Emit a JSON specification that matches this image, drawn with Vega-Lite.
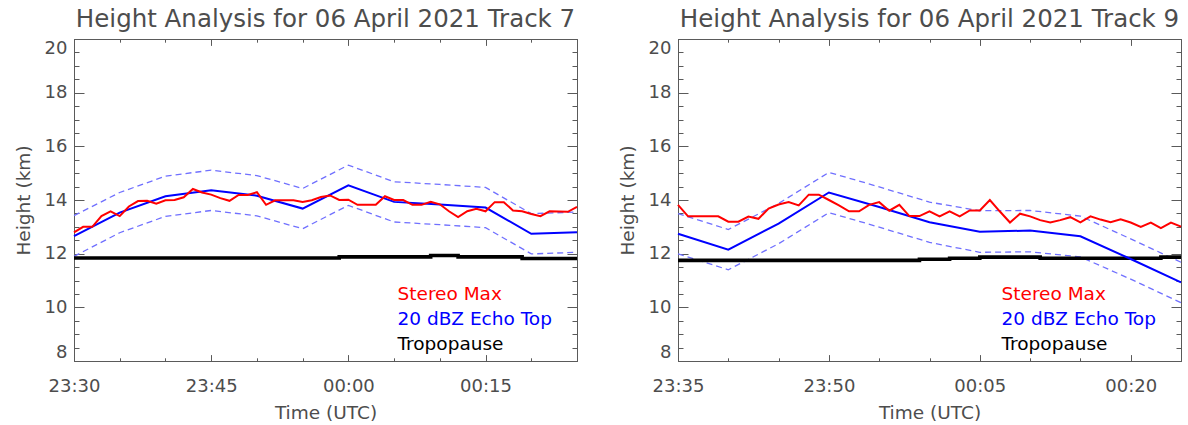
{
  "$schema": "https://vega.github.io/schema/vega-lite/v6.json",
  "padding": {"left": 13, "top": 6, "right": 0, "bottom": 0},
  "spacing": 32,
  "datasets": {
    "t7_stereo": [
      {"time": "2021-04-06T23:30:00Z", "height": 12.79},
      {"time": "2021-04-06T23:31:00Z", "height": 13.0},
      {"time": "2021-04-06T23:32:00Z", "height": 13.0},
      {"time": "2021-04-06T23:33:00Z", "height": 13.4},
      {"time": "2021-04-06T23:34:00Z", "height": 13.58},
      {"time": "2021-04-06T23:35:00Z", "height": 13.4},
      {"time": "2021-04-06T23:36:00Z", "height": 13.76},
      {"time": "2021-04-06T23:37:00Z", "height": 13.96},
      {"time": "2021-04-06T23:38:00Z", "height": 13.97},
      {"time": "2021-04-06T23:39:00Z", "height": 13.86},
      {"time": "2021-04-06T23:40:00Z", "height": 13.99},
      {"time": "2021-04-06T23:41:00Z", "height": 14.0},
      {"time": "2021-04-06T23:42:00Z", "height": 14.1},
      {"time": "2021-04-06T23:43:00Z", "height": 14.41},
      {"time": "2021-04-06T23:44:00Z", "height": 14.28},
      {"time": "2021-04-06T23:45:00Z", "height": 14.2},
      {"time": "2021-04-06T23:46:00Z", "height": 14.07},
      {"time": "2021-04-06T23:47:00Z", "height": 13.97},
      {"time": "2021-04-06T23:48:00Z", "height": 14.19},
      {"time": "2021-04-06T23:49:00Z", "height": 14.19},
      {"time": "2021-04-06T23:50:00Z", "height": 14.29},
      {"time": "2021-04-06T23:51:00Z", "height": 13.82},
      {"time": "2021-04-06T23:52:00Z", "height": 13.99},
      {"time": "2021-04-06T23:53:00Z", "height": 13.99},
      {"time": "2021-04-06T23:54:00Z", "height": 13.99},
      {"time": "2021-04-06T23:55:00Z", "height": 13.93},
      {"time": "2021-04-06T23:56:00Z", "height": 13.99},
      {"time": "2021-04-06T23:57:00Z", "height": 14.11},
      {"time": "2021-04-06T23:58:00Z", "height": 14.17},
      {"time": "2021-04-06T23:59:00Z", "height": 14.0},
      {"time": "2021-04-07T00:00:00Z", "height": 14.01},
      {"time": "2021-04-07T00:01:00Z", "height": 13.82},
      {"time": "2021-04-07T00:02:00Z", "height": 13.82},
      {"time": "2021-04-07T00:03:00Z", "height": 13.82},
      {"time": "2021-04-07T00:04:00Z", "height": 14.14},
      {"time": "2021-04-07T00:05:00Z", "height": 14.0},
      {"time": "2021-04-07T00:06:00Z", "height": 14.0},
      {"time": "2021-04-07T00:07:00Z", "height": 13.82},
      {"time": "2021-04-07T00:08:00Z", "height": 13.82},
      {"time": "2021-04-07T00:09:00Z", "height": 13.93},
      {"time": "2021-04-07T00:10:00Z", "height": 13.84},
      {"time": "2021-04-07T00:11:00Z", "height": 13.58},
      {"time": "2021-04-07T00:12:00Z", "height": 13.36},
      {"time": "2021-04-07T00:13:00Z", "height": 13.58},
      {"time": "2021-04-07T00:14:00Z", "height": 13.67},
      {"time": "2021-04-07T00:15:00Z", "height": 13.58},
      {"time": "2021-04-07T00:16:00Z", "height": 13.92},
      {"time": "2021-04-07T00:17:00Z", "height": 13.92},
      {"time": "2021-04-07T00:18:00Z", "height": 13.61},
      {"time": "2021-04-07T00:19:00Z", "height": 13.58},
      {"time": "2021-04-07T00:20:00Z", "height": 13.48},
      {"time": "2021-04-07T00:21:00Z", "height": 13.4},
      {"time": "2021-04-07T00:22:00Z", "height": 13.58},
      {"time": "2021-04-07T00:23:00Z", "height": 13.57},
      {"time": "2021-04-07T00:24:00Z", "height": 13.56},
      {"time": "2021-04-07T00:25:00Z", "height": 13.74}
    ],
    "t7_echo": [
      {"time": "2021-04-06T23:30:00Z", "height": 12.65, "hi": 13.42, "lo": 11.9},
      {"time": "2021-04-06T23:35:00Z", "height": 13.53, "hi": 14.28, "lo": 12.78},
      {"time": "2021-04-06T23:40:00Z", "height": 14.14, "hi": 14.89, "lo": 13.39},
      {"time": "2021-04-06T23:45:00Z", "height": 14.36, "hi": 15.11, "lo": 13.61},
      {"time": "2021-04-06T23:50:00Z", "height": 14.16, "hi": 14.91, "lo": 13.41},
      {"time": "2021-04-06T23:55:00Z", "height": 13.68, "hi": 14.43, "lo": 12.93},
      {"time": "2021-04-07T00:00:00Z", "height": 14.55, "hi": 15.3, "lo": 13.8},
      {"time": "2021-04-07T00:05:00Z", "height": 13.93, "hi": 14.68, "lo": 13.18},
      {"time": "2021-04-07T00:10:00Z", "height": 13.83, "hi": 14.58, "lo": 13.08},
      {"time": "2021-04-07T00:15:00Z", "height": 13.72, "hi": 14.47, "lo": 12.97},
      {"time": "2021-04-07T00:20:00Z", "height": 12.74, "hi": 13.49, "lo": 11.99},
      {"time": "2021-04-07T00:25:00Z", "height": 12.8, "hi": 13.55, "lo": 12.05}
    ],
    "t7_tropo": [
      {"time": "2021-04-06T23:30:00Z", "height": 11.84},
      {"time": "2021-04-06T23:59:00Z", "height": 11.88},
      {"time": "2021-04-07T00:09:00Z", "height": 11.93},
      {"time": "2021-04-07T00:12:00Z", "height": 11.88},
      {"time": "2021-04-07T00:19:00Z", "height": 11.82},
      {"time": "2021-04-07T00:25:00Z", "height": 11.82}
    ],
    "t9_stereo": [
      {"time": "2021-04-06T23:35:00Z", "height": 13.82},
      {"time": "2021-04-06T23:36:00Z", "height": 13.39},
      {"time": "2021-04-06T23:37:00Z", "height": 13.39},
      {"time": "2021-04-06T23:38:00Z", "height": 13.39},
      {"time": "2021-04-06T23:39:00Z", "height": 13.39},
      {"time": "2021-04-06T23:40:00Z", "height": 13.19},
      {"time": "2021-04-06T23:41:00Z", "height": 13.19},
      {"time": "2021-04-06T23:42:00Z", "height": 13.38},
      {"time": "2021-04-06T23:43:00Z", "height": 13.3},
      {"time": "2021-04-06T23:44:00Z", "height": 13.68},
      {"time": "2021-04-06T23:45:00Z", "height": 13.83},
      {"time": "2021-04-06T23:46:00Z", "height": 13.92},
      {"time": "2021-04-06T23:47:00Z", "height": 13.8},
      {"time": "2021-04-06T23:48:00Z", "height": 14.2},
      {"time": "2021-04-06T23:49:00Z", "height": 14.2},
      {"time": "2021-04-06T23:50:00Z", "height": 14.0},
      {"time": "2021-04-06T23:51:00Z", "height": 13.8},
      {"time": "2021-04-06T23:52:00Z", "height": 13.58},
      {"time": "2021-04-06T23:53:00Z", "height": 13.58},
      {"time": "2021-04-06T23:54:00Z", "height": 13.82},
      {"time": "2021-04-06T23:55:00Z", "height": 13.92},
      {"time": "2021-04-06T23:56:00Z", "height": 13.6},
      {"time": "2021-04-06T23:57:00Z", "height": 13.82},
      {"time": "2021-04-06T23:58:00Z", "height": 13.4},
      {"time": "2021-04-06T23:59:00Z", "height": 13.4},
      {"time": "2021-04-07T00:00:00Z", "height": 13.58},
      {"time": "2021-04-07T00:01:00Z", "height": 13.39},
      {"time": "2021-04-07T00:02:00Z", "height": 13.58},
      {"time": "2021-04-07T00:03:00Z", "height": 13.39},
      {"time": "2021-04-07T00:04:00Z", "height": 13.61},
      {"time": "2021-04-07T00:05:00Z", "height": 13.61},
      {"time": "2021-04-07T00:06:00Z", "height": 14.0},
      {"time": "2021-04-07T00:07:00Z", "height": 13.57},
      {"time": "2021-04-07T00:08:00Z", "height": 13.16},
      {"time": "2021-04-07T00:09:00Z", "height": 13.49},
      {"time": "2021-04-07T00:10:00Z", "height": 13.39},
      {"time": "2021-04-07T00:11:00Z", "height": 13.25},
      {"time": "2021-04-07T00:12:00Z", "height": 13.16},
      {"time": "2021-04-07T00:13:00Z", "height": 13.25},
      {"time": "2021-04-07T00:14:00Z", "height": 13.36},
      {"time": "2021-04-07T00:15:00Z", "height": 13.17},
      {"time": "2021-04-07T00:16:00Z", "height": 13.39},
      {"time": "2021-04-07T00:17:00Z", "height": 13.27},
      {"time": "2021-04-07T00:18:00Z", "height": 13.17},
      {"time": "2021-04-07T00:19:00Z", "height": 13.28},
      {"time": "2021-04-07T00:20:00Z", "height": 13.16},
      {"time": "2021-04-07T00:21:00Z", "height": 13.0},
      {"time": "2021-04-07T00:22:00Z", "height": 13.16},
      {"time": "2021-04-07T00:23:00Z", "height": 12.95},
      {"time": "2021-04-07T00:24:00Z", "height": 13.16},
      {"time": "2021-04-07T00:25:00Z", "height": 13.01}
    ],
    "t9_echo": [
      {"time": "2021-04-06T23:35:00Z", "height": 12.74, "hi": 13.49, "lo": 11.99},
      {"time": "2021-04-06T23:40:00Z", "height": 12.15, "hi": 12.9, "lo": 11.4},
      {"time": "2021-04-06T23:45:00Z", "height": 13.12, "hi": 13.87, "lo": 12.37},
      {"time": "2021-04-06T23:50:00Z", "height": 14.28, "hi": 15.03, "lo": 13.53},
      {"time": "2021-04-06T23:55:00Z", "height": 13.74, "hi": 14.49, "lo": 12.99},
      {"time": "2021-04-07T00:00:00Z", "height": 13.17, "hi": 13.92, "lo": 12.42},
      {"time": "2021-04-07T00:05:00Z", "height": 12.82, "hi": 13.6, "lo": 12.05},
      {"time": "2021-04-07T00:10:00Z", "height": 12.86, "hi": 13.61, "lo": 12.07},
      {"time": "2021-04-07T00:15:00Z", "height": 12.65, "hi": 13.4, "lo": 11.88},
      {"time": "2021-04-07T00:20:00Z", "height": 11.8, "hi": 12.55, "lo": 11.05},
      {"time": "2021-04-07T00:25:00Z", "height": 10.93, "hi": 11.68, "lo": 10.17}
    ],
    "t9_tropo": [
      {"time": "2021-04-06T23:35:00Z", "height": 11.75},
      {"time": "2021-04-06T23:59:00Z", "height": 11.79},
      {"time": "2021-04-07T00:02:00Z", "height": 11.83},
      {"time": "2021-04-07T00:05:00Z", "height": 11.87},
      {"time": "2021-04-07T00:11:00Z", "height": 11.83},
      {"time": "2021-04-07T00:23:00Z", "height": 11.87},
      {"time": "2021-04-07T00:25:00Z", "height": 11.87}
    ]
  },
  "resolve": {"scale": {"color": "independent"}, "legend": {"color": "independent"}},
  "hconcat": [
    {
      "title": "Height Analysis for 06 April 2021 Track 7",
      "width": 503,
      "height": 322,
      "resolve": {"axis": {"x": "independent", "y": "independent"}},
      "layer": [
        {
          "data": {"name": "t7_echo"},
          "mark": {"type": "line", "color": "#7070ff", "strokeWidth": 1.3, "strokeDash": [6, 4]},
          "encoding": {
            "x": {"field": "time", "type": "temporal",
              "scale": {"type": "utc", "nice": false, "domain": [1617751800000, 1617755100000]},
              "axis": {"orient": "bottom", "title": "Time (UTC)", "ticks": false, "labelExpr": "utcFormat(datum.value, '%H:%M')", "labelFlush": false, "labelOverlap": false, "labelPadding": 16.7, "titlePadding": 8,
                "values": [1617751800000, 1617752700000, 1617753600000, 1617754500000]}},
            "y": {"field": "hi", "type": "quantitative", "scale": {"domain": [8, 20], "nice": false, "zero": false},
              "axis": {"orient": "left", "title": "Height (km)", "ticks": false, "values": [8, 10, 12, 14, 16, 18, 20], "labelFlush": true, "labelOverlap": false, "labelPadding": 7, "titlePadding": 11}}
          }
        },
        {
          "data": {"name": "t7_echo"},
          "mark": {"type": "line", "color": "#7070ff", "strokeWidth": 1.3, "strokeDash": [6, 4]},
          "encoding": {
            "x": {"field": "time", "type": "temporal",
              "scale": {"type": "utc", "nice": false, "domain": [1617751800000, 1617755100000]},
              "axis": {"orient": "bottom", "title": null, "labels": false, "offset": -6.4, "tickSize": 6.4,
                "values": [1617751800000, 1617752700000, 1617753600000, 1617754500000]}},
            "y": {"field": "lo", "type": "quantitative", "scale": {"domain": [8, 20], "nice": false, "zero": false},
              "axis": {"orient": "left", "title": null, "labels": false, "offset": -10, "tickSize": 10, "values": [8, 10, 12, 14, 16, 18, 20]}}
          }
        },
        {
          "data": {"name": "t7_tropo"},
          "mark": {"type": "line", "strokeWidth": 3.6, "interpolate": "step-after"},
          "encoding": {
            "x": {"field": "time", "type": "temporal",
              "scale": {"type": "utc", "nice": false, "domain": [1617751800000, 1617755100000]},
              "axis": {"orient": "bottom", "title": null, "labels": false, "offset": -3.2, "tickSize": 3.2,
                "values": [1617751800000, 1617752100000, 1617752400000, 1617752700000, 1617753000000, 1617753300000, 1617753600000, 1617753900000, 1617754200000, 1617754500000, 1617754800000, 1617755100000]}},
            "y": {"field": "height", "type": "quantitative", "scale": {"domain": [8, 20], "nice": false, "zero": false},
              "axis": {"orient": "left", "title": null, "labels": false, "offset": -5, "tickSize": 5, "values": [8, 8.5, 9, 9.5, 10, 10.5, 11, 11.5, 12, 12.5, 13, 13.5, 14, 14.5, 15, 15.5, 16, 16.5, 17, 17.5, 18, 18.5, 19, 19.5, 20]}},
            "color": {"datum": "Tropopause", "type": "nominal",
              "scale": {"domain": ["Stereo Max", "20 dBZ Echo Top", "Tropopause"], "range": ["#ff0000", "#0000ff", "#000000"]},
              "legend": {"orient": "none", "legendX": 305, "legendY": 246, "title": null, "symbolSize": 0, "symbolOpacity": 0, "labelOffset": 0, "labelFontSize": 18.5, "rowPadding": 6, "labelColor": {"expr": "datum.label == 'Stereo Max' ? '#ff0000' : datum.label == 'Tropopause' ? '#000000' : '#0000ff'"}}}
          }
        },
        {
          "data": {"name": "t7_echo"},
          "mark": {"type": "line", "strokeWidth": 2},
          "encoding": {
            "x": {"field": "time", "type": "temporal",
              "scale": {"type": "utc", "nice": false, "domain": [1617751800000, 1617755100000]},
              "axis": {"orient": "top", "title": null, "labels": false, "offset": -6.4, "tickSize": 6.4,
                "values": [1617751800000, 1617752700000, 1617753600000, 1617754500000]}},
            "y": {"field": "height", "type": "quantitative", "scale": {"domain": [8, 20], "nice": false, "zero": false},
              "axis": {"orient": "right", "title": null, "labels": false, "offset": -10, "tickSize": 10, "values": [8, 10, 12, 14, 16, 18, 20]}},
            "color": {"datum": "20 dBZ Echo Top", "type": "nominal",
              "scale": {"domain": ["Stereo Max", "20 dBZ Echo Top", "Tropopause"], "range": ["#ff0000", "#0000ff", "#000000"]},
              "legend": {"orient": "none", "legendX": 305, "legendY": 246, "title": null, "symbolSize": 0, "symbolOpacity": 0, "labelOffset": 0, "labelFontSize": 18.5, "rowPadding": 6, "labelColor": {"expr": "datum.label == 'Stereo Max' ? '#ff0000' : datum.label == 'Tropopause' ? '#000000' : '#0000ff'"}}}
          }
        },
        {
          "data": {"name": "t7_stereo"},
          "mark": {"type": "line", "strokeWidth": 2},
          "encoding": {
            "x": {"field": "time", "type": "temporal",
              "scale": {"type": "utc", "nice": false, "domain": [1617751800000, 1617755100000]},
              "axis": {"orient": "top", "title": null, "labels": false, "offset": -3.2, "tickSize": 3.2,
                "values": [1617751800000, 1617752100000, 1617752400000, 1617752700000, 1617753000000, 1617753300000, 1617753600000, 1617753900000, 1617754200000, 1617754500000, 1617754800000, 1617755100000]}},
            "y": {"field": "height", "type": "quantitative", "scale": {"domain": [8, 20], "nice": false, "zero": false},
              "axis": {"orient": "right", "title": null, "labels": false, "offset": -5, "tickSize": 5, "values": [8, 8.5, 9, 9.5, 10, 10.5, 11, 11.5, 12, 12.5, 13, 13.5, 14, 14.5, 15, 15.5, 16, 16.5, 17, 17.5, 18, 18.5, 19, 19.5, 20]}},
            "color": {"datum": "Stereo Max", "type": "nominal",
              "scale": {"domain": ["Stereo Max", "20 dBZ Echo Top", "Tropopause"], "range": ["#ff0000", "#0000ff", "#000000"]},
              "legend": {"orient": "none", "legendX": 305, "legendY": 246, "title": null, "symbolSize": 0, "symbolOpacity": 0, "labelOffset": 0, "labelFontSize": 18.5, "rowPadding": 6, "labelColor": {"expr": "datum.label == 'Stereo Max' ? '#ff0000' : datum.label == 'Tropopause' ? '#000000' : '#0000ff'"}}}
          }
        }
      ]
    },
    {
      "title": "Height Analysis for 06 April 2021 Track 9",
      "width": 503,
      "height": 322,
      "resolve": {"axis": {"x": "independent", "y": "independent"}},
      "layer": [
        {
          "data": {"name": "t9_echo"},
          "mark": {"type": "line", "color": "#7070ff", "strokeWidth": 1.3, "strokeDash": [6, 4]},
          "encoding": {
            "x": {"field": "time", "type": "temporal",
              "scale": {"type": "utc", "nice": false, "domain": [1617752100000, 1617755100000]},
              "axis": {"orient": "bottom", "title": "Time (UTC)", "ticks": false, "labelExpr": "utcFormat(datum.value, '%H:%M')", "labelFlush": false, "labelOverlap": false, "labelPadding": 16.7, "titlePadding": 8,
                "values": [1617752100000, 1617753000000, 1617753900000, 1617754800000]}},
            "y": {"field": "hi", "type": "quantitative", "scale": {"domain": [8, 20], "nice": false, "zero": false},
              "axis": {"orient": "left", "title": "Height (km)", "ticks": false, "values": [8, 10, 12, 14, 16, 18, 20], "labelFlush": true, "labelOverlap": false, "labelPadding": 7, "titlePadding": 11}}
          }
        },
        {
          "data": {"name": "t9_echo"},
          "mark": {"type": "line", "color": "#7070ff", "strokeWidth": 1.3, "strokeDash": [6, 4]},
          "encoding": {
            "x": {"field": "time", "type": "temporal",
              "scale": {"type": "utc", "nice": false, "domain": [1617752100000, 1617755100000]},
              "axis": {"orient": "bottom", "title": null, "labels": false, "offset": -6.4, "tickSize": 6.4,
                "values": [1617752100000, 1617753000000, 1617753900000, 1617754800000]}},
            "y": {"field": "lo", "type": "quantitative", "scale": {"domain": [8, 20], "nice": false, "zero": false},
              "axis": {"orient": "left", "title": null, "labels": false, "offset": -10, "tickSize": 10, "values": [8, 10, 12, 14, 16, 18, 20]}}
          }
        },
        {
          "data": {"name": "t9_tropo"},
          "mark": {"type": "line", "strokeWidth": 3.6, "interpolate": "step-after"},
          "encoding": {
            "x": {"field": "time", "type": "temporal",
              "scale": {"type": "utc", "nice": false, "domain": [1617752100000, 1617755100000]},
              "axis": {"orient": "bottom", "title": null, "labels": false, "offset": -3.2, "tickSize": 3.2,
                "values": [1617752100000, 1617752400000, 1617752700000, 1617753000000, 1617753300000, 1617753600000, 1617753900000, 1617754200000, 1617754500000, 1617754800000, 1617755100000]}},
            "y": {"field": "height", "type": "quantitative", "scale": {"domain": [8, 20], "nice": false, "zero": false},
              "axis": {"orient": "left", "title": null, "labels": false, "offset": -5, "tickSize": 5, "values": [8, 8.5, 9, 9.5, 10, 10.5, 11, 11.5, 12, 12.5, 13, 13.5, 14, 14.5, 15, 15.5, 16, 16.5, 17, 17.5, 18, 18.5, 19, 19.5, 20]}},
            "color": {"datum": "Tropopause", "type": "nominal",
              "scale": {"domain": ["Stereo Max", "20 dBZ Echo Top", "Tropopause"], "range": ["#ff0000", "#0000ff", "#000000"]},
              "legend": {"orient": "none", "legendX": 305, "legendY": 246, "title": null, "symbolSize": 0, "symbolOpacity": 0, "labelOffset": 0, "labelFontSize": 18.5, "rowPadding": 6, "labelColor": {"expr": "datum.label == 'Stereo Max' ? '#ff0000' : datum.label == 'Tropopause' ? '#000000' : '#0000ff'"}}}
          }
        },
        {
          "data": {"name": "t9_echo"},
          "mark": {"type": "line", "strokeWidth": 2},
          "encoding": {
            "x": {"field": "time", "type": "temporal",
              "scale": {"type": "utc", "nice": false, "domain": [1617752100000, 1617755100000]},
              "axis": {"orient": "top", "title": null, "labels": false, "offset": -6.4, "tickSize": 6.4,
                "values": [1617752100000, 1617753000000, 1617753900000, 1617754800000]}},
            "y": {"field": "height", "type": "quantitative", "scale": {"domain": [8, 20], "nice": false, "zero": false},
              "axis": {"orient": "right", "title": null, "labels": false, "offset": -10, "tickSize": 10, "values": [8, 10, 12, 14, 16, 18, 20]}},
            "color": {"datum": "20 dBZ Echo Top", "type": "nominal",
              "scale": {"domain": ["Stereo Max", "20 dBZ Echo Top", "Tropopause"], "range": ["#ff0000", "#0000ff", "#000000"]},
              "legend": {"orient": "none", "legendX": 305, "legendY": 246, "title": null, "symbolSize": 0, "symbolOpacity": 0, "labelOffset": 0, "labelFontSize": 18.5, "rowPadding": 6, "labelColor": {"expr": "datum.label == 'Stereo Max' ? '#ff0000' : datum.label == 'Tropopause' ? '#000000' : '#0000ff'"}}}
          }
        },
        {
          "data": {"name": "t9_stereo"},
          "mark": {"type": "line", "strokeWidth": 2},
          "encoding": {
            "x": {"field": "time", "type": "temporal",
              "scale": {"type": "utc", "nice": false, "domain": [1617752100000, 1617755100000]},
              "axis": {"orient": "top", "title": null, "labels": false, "offset": -3.2, "tickSize": 3.2,
                "values": [1617752100000, 1617752400000, 1617752700000, 1617753000000, 1617753300000, 1617753600000, 1617753900000, 1617754200000, 1617754500000, 1617754800000, 1617755100000]}},
            "y": {"field": "height", "type": "quantitative", "scale": {"domain": [8, 20], "nice": false, "zero": false},
              "axis": {"orient": "right", "title": null, "labels": false, "offset": -5, "tickSize": 5, "values": [8, 8.5, 9, 9.5, 10, 10.5, 11, 11.5, 12, 12.5, 13, 13.5, 14, 14.5, 15, 15.5, 16, 16.5, 17, 17.5, 18, 18.5, 19, 19.5, 20]}},
            "color": {"datum": "Stereo Max", "type": "nominal",
              "scale": {"domain": ["Stereo Max", "20 dBZ Echo Top", "Tropopause"], "range": ["#ff0000", "#0000ff", "#000000"]},
              "legend": {"orient": "none", "legendX": 305, "legendY": 246, "title": null, "symbolSize": 0, "symbolOpacity": 0, "labelOffset": 0, "labelFontSize": 18.5, "rowPadding": 6, "labelColor": {"expr": "datum.label == 'Stereo Max' ? '#ff0000' : datum.label == 'Tropopause' ? '#000000' : '#0000ff'"}}}
          }
        }
      ]
    }
  ],
  "config": {
    "font": "DejaVu Sans",
    "view": {"stroke": "#5a5a5a", "strokeWidth": 1},
    "axis": {"grid": false, "domain": false, "tickColor": "#5a5a5a", "tickWidth": 1, "labelColor": "#4d4d4d", "titleColor": "#4d4d4d", "labelFont": "DejaVu Sans", "titleFont": "DejaVu Sans", "labelFontSize": 18, "titleFontSize": 18.5, "titleFontWeight": "normal"},
    "legend": {"labelFont": "DejaVu Sans"},
    "title": {"font": "DejaVu Sans", "fontSize": 24.5, "fontWeight": "normal", "color": "#4d4d4d", "anchor": "middle", "frame": "group", "offset": 6}
  }
}
